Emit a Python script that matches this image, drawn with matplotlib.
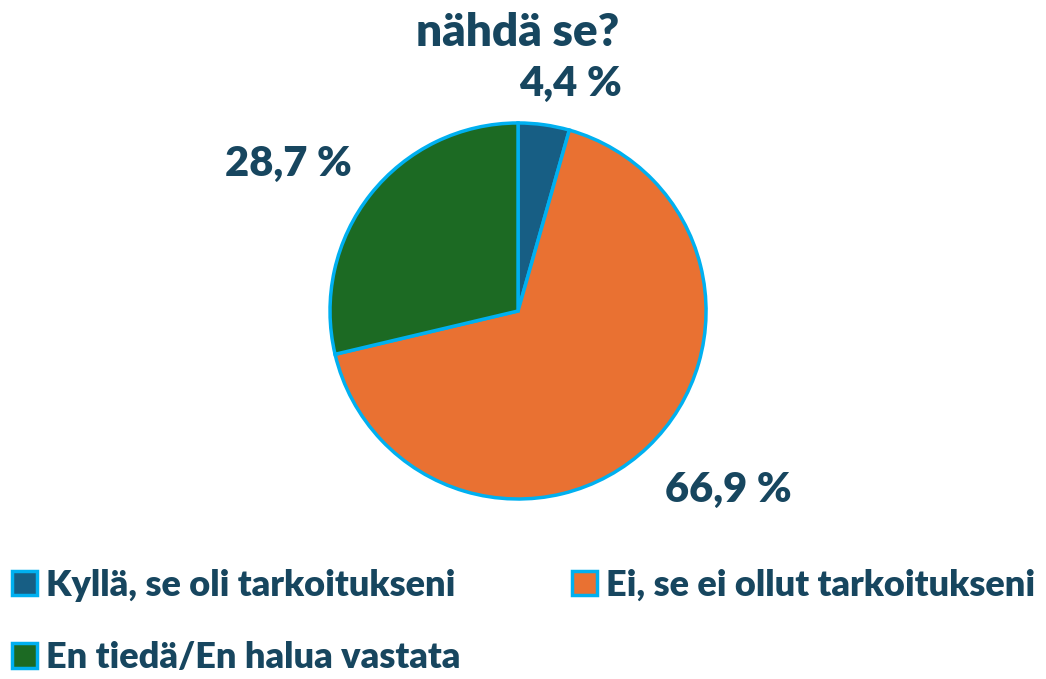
import matplotlib.pyplot as plt

# Survey answers and their shares (%)
categories = ['Kyllä, se oli tarkoitukseni',
              'Ei, se ei ollut tarkoitukseni',
              'En tiedä/En halua vastata']
shares = [4.4, 66.9, 28.7]
colors = ['#175E84', '#E97132', '#1C6A23']
title = 'nähdä se?'

text_color = '#17465F'
edge_color = '#00B0F0'
plt.rcParams['font.family'] = ['Lato', 'DejaVu Sans']
weight = 'heavy'

fig = plt.figure(figsize=(10.46, 6.79), dpi=100)
ax = fig.add_axes([0.3155, 0.2651, 0.3595, 0.5538])

wedges, _ = ax.pie(shares, colors=colors, startangle=90, counterclock=False,
                   wedgeprops=dict(edgecolor=edge_color, linewidth=2.5))
ax.set_aspect('equal')
ax.set_xlim(-1.0, 1.0)
ax.set_ylim(-1.0, 1.0)

# Percentage labels outside the slices
label_pos = [(0.28, 1.21), (1.12, -0.95), (-1.22, 0.78)]
for val, (x, y) in zip(shares, label_pos):
    ax.text(x, y, f'{val:.1f} %'.replace('.', ','), ha='center', va='center',
            fontsize=30, fontweight=weight, color=text_color, clip_on=False)

fig.text(0.495, 0.952, title, ha='center', va='center',
         fontsize=33, fontweight=weight, color=text_color)

# legend fills column by column, so reorder to read row by row
order = [0, 2, 1]
leg = fig.legend([wedges[i] for i in order], [categories[i] for i in order],
                 ncol=2, loc='upper left',
                 bbox_to_anchor=(-0.016, 0.205), frameon=False,
                 fontsize=26, handlelength=0.68, handleheight=0.68,
                 handletextpad=0.25, columnspacing=3.1, labelspacing=1.1,
                 borderpad=0.3)
for t in leg.get_texts():
    t.set_color(text_color)
    t.set_fontweight(weight)

fig.savefig('out.png', dpi=100)
